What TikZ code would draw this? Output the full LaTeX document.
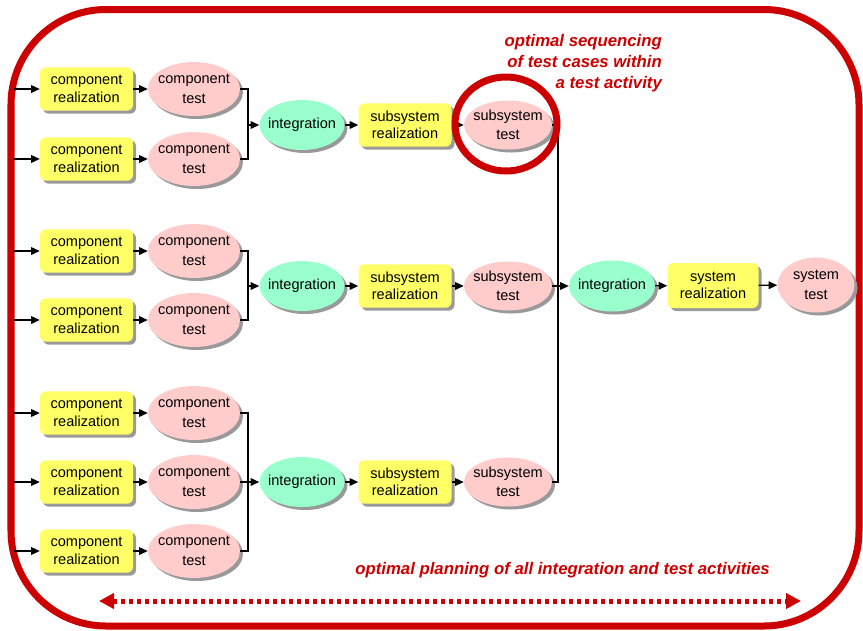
\documentclass[tikz,border=0pt]{standalone}
\usepackage{fontspec}
\setmainfont{Liberation Sans}
\usetikzlibrary{arrows.meta, positioning, shapes.geometric, shadows}
\definecolor{compyellow}{HTML}{FFFF66}
\definecolor{testpink}{HTML}{FFCCCC}
\definecolor{integgreen}{HTML}{99FFCC}
\definecolor{planred}{HTML}{CC0000}
\definecolor{shadowgray}{HTML}{999999}

\begin{document}
\begin{tikzpicture}[x=0.03cm, y=-0.03cm,
  >={Triangle[length=2.6mm, width=2.3mm]},
  flow/.style={->, black, line width=1.1pt},
  bracket/.style={black, line width=1.1pt},
  shadowed/.style={drop shadow={shadow xshift=0.09cm, shadow yshift=-0.09cm, fill=shadowgray, opacity=1}},
  realbox/.style={shadowed, fill=compyellow, rounded corners=5pt, minimum width=2.79cm, minimum height=1.3cm,
    inner sep=0pt, align=center, font=\fontsize{12.4}{14.8}\selectfont},
  testell/.style={shadowed, ellipse, fill=testpink, minimum width=2.76cm, minimum height=1.62cm,
    inner xsep=-0.5cm, inner ysep=-0.3cm, align=center, font=\fontsize{12.4}{16.6}\selectfont},
  integell/.style={shadowed, ellipse, fill=integgreen, minimum width=2.55cm, minimum height=1.5cm,
    inner xsep=-0.5cm, inner ysep=-0.3cm, align=center, font=\fontsize{12.4}{14.8}\selectfont},
  note/.style={text=planred, font=\fontsize{14.3}{18}\selectfont\bfseries\itshape, align=right}]

\useasboundingbox (0,0) rectangle (863,630);

% Outer frame
\draw[planred, line width=0.21cm, rounded corners=2.85cm] (11,9.5) rectangle (859,626);

% ============================================================
% Component level
% ============================================================
\foreach \i/\y in {1/89, 2/159, 3/251, 4/320, 5/413, 6/482, 7/551} {
  \coordinate (in\i) at (14,\y);
  \node[realbox] (cr\i) at (86.5,\y) {component\\realization};
  \node[testell] (ct\i) at (194,\y) {component\\test};
  \draw[flow] (in\i) -- (cr\i);
  \draw[flow] (cr\i) -- (ct\i);
}

% ============================================================
% Subsystem level
% ============================================================
\foreach \g/\y in {1/125, 2/286, 3/482} {
  \node[integell] (int\g) at (302,\y) {integration};
  \node[realbox] (sr\g) at (405,\y) {subsystem\\realization};
  \node[testell, minimum width=2.64cm, minimum height=1.47cm] (st\g) at (508,\y) {subsystem\\test};
  \draw[flow] (int\g) -- (sr\g);
  \draw[flow] (sr\g) -- (st\g);
}

% Brackets into integration
\coordinate (jA) at (248,125);
\coordinate (jB) at (248,286);
\draw[bracket] (ct1.east) -| (jA) |- (ct2.east);
\draw[flow] (jA) -- (int1);
\draw[bracket] (ct3.east) -| (jB) |- (ct4.east);
\draw[flow] (jB) -- (int2);
\draw[bracket] (ct5.east) -| (248,482) |- (ct7.east);
\draw[flow] (ct6) -- (int3);

% ============================================================
% System level
% ============================================================
\node[integell, minimum width=2.58cm, minimum height=1.53cm] (int4) at (612,286) {integration};
\node[realbox, minimum width=2.73cm, minimum height=1.35cm] (sysr) at (713,285.5) {system\\realization};
\node[testell, minimum width=2.31cm, minimum height=1.65cm] (syst) at (816,285) {system\\test};

\coordinate (jD) at (558,286);
\draw[bracket] (st1.east) -| (jD) |- (st3.east);
\draw[flow] (st2) -- (int4);
\draw[flow] (int4) -- (sysr);
\draw[flow] (sysr) -- (syst);

% Highlight of one test activity
\draw[planred, line width=0.21cm] (506,124) ellipse [x radius=51, y radius=47];
\node[note, anchor=east] (seqnote) at (666,63) {optimal sequencing\\of test cases within\\a test activity};

% Planning of all activities
\node[note] (plannote) at (562.5,570) {optimal planning of all integration and test activities};
\coordinate (planL) at (99,601);
\coordinate (planR) at (801,601);
\draw[planred, line width=0.15cm, dash pattern=on 0.12cm off 0.12cm,
  {Triangle[length=0.45cm, width=0.45cm]}-{Triangle[length=0.45cm, width=0.45cm]}] (planL) -- (planR);

\end{tikzpicture}
\end{document}
